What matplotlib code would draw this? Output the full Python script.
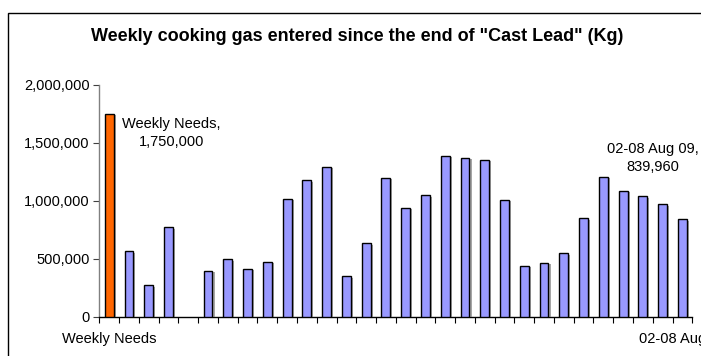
import matplotlib.pyplot as plt
import matplotlib.patches as mpatches
import matplotlib.patheffects as pe
from matplotlib.ticker import FuncFormatter, FixedLocator
import numpy as np

plt.rcParams['font.family'] = ['Liberation Sans', 'DejaVu Sans']

# weekly cooking gas entries (Kg), first entry is the weekly needs reference
needs_label = "Weekly Needs"
needs_value = 1750000
last_label = "02-08 Aug 09"
weekly_values = [564000, 271000, 771000, 0, 397000, 495000, 414000, 474000,
                 1017000, 1176000, 1293000, 348000, 633000, 1196000, 940000,
                 1047000, 1385000, 1371000, 1353000, 1009000, 437000, 466000,
                 547000, 848000, 1204000, 1086000, 1038000, 969000, 839960]
tick_labels = [needs_label] + [""] * (len(weekly_values) - 1) + [last_label]
values = [needs_value] + weekly_values
y_ticks = [0, 500000, 1000000, 1500000, 2000000]

fig = plt.figure(figsize=(7.01, 3.56), dpi=100)
ax = fig.add_axes([99.3 / 701, (356 - 316.7) / 356,
                   (692.3 - 99.3) / 701, (316.7 - 84.7) / 356])

x = np.arange(len(values))
colors = ['#FF6600'] + ['#9999FF'] * len(weekly_values)
bars = ax.bar(x, values, width=0.45, color=colors, edgecolor='black',
              linewidth=1.0, zorder=3)
for b, v in zip(bars, values):
    if v > 0:
        b.set_path_effects([pe.SimplePatchShadow(offset=(1.5, -1), shadow_rgbFace='#808080', alpha=0.7),
                            pe.Normal()])
    else:
        b.set_linewidth(0)

ax.set_xlim(-0.5, len(values) - 0.5)
ax.set_ylim(0, 2000000)
ax.set_yticks(y_ticks)
ax.yaxis.set_major_formatter(FuncFormatter(lambda v, p: f"{int(v):,}"))
ax.tick_params(axis='y', labelsize=10.5, length=4, width=0.8, color='#404040', pad=3)

# category ticks sit on the boundaries, labels at the centres
ax.xaxis.set_major_locator(FixedLocator(np.arange(len(values) + 1) - 0.5))
ax.set_xticklabels([])
ax.xaxis.set_minor_locator(FixedLocator(x))
ax.set_xticklabels(tick_labels, minor=True)
ax.tick_params(axis='x', which='major', length=4, width=0.8, color='black')
ax.tick_params(axis='x', which='minor', length=0, labelsize=10.5, pad=11)
for lbl in ax.get_xticklabels(minor=True):
    lbl.set_clip_on(False)

for side in ['top', 'right']:
    ax.spines[side].set_visible(False)
ax.spines['left'].set_color('#808080')
ax.spines['left'].set_linewidth(1.0)
ax.spines['bottom'].set_color('black')
ax.spines['bottom'].set_linewidth(1.0)

ax.annotate(f"{needs_label},\n{needs_value:,}", xy=(0, needs_value),
            xytext=(171.7 / 701, (356 - 133) / 356), textcoords='figure fraction',
            ha='center', va='center', fontsize=10.5, linespacing=1.45)
ax.annotate(f"{last_label},\n{weekly_values[-1]:,}", xy=(x[-1], weekly_values[-1]),
            xytext=(653 / 701, (356 - 158) / 356), textcoords='figure fraction',
            ha='center', va='center', fontsize=10.5, linespacing=1.45)

fig.text(357 / 701, (356 - 36.5) / 356,
         'Weekly cooking gas entered since the end of "Cast Lead" (Kg)',
         ha='center', va='center', fontsize=13, fontweight='bold')

# chart area frame, running off the right and bottom edges
frame = mpatches.Rectangle((7.5 / 701, -1), 2, 1 + (356 - 12.5) / 356,
                           transform=fig.transFigure, fill=False,
                           edgecolor='black', linewidth=1.0, clip_on=False)
fig.patches.append(frame)

fig.savefig('out.png', dpi=100)
